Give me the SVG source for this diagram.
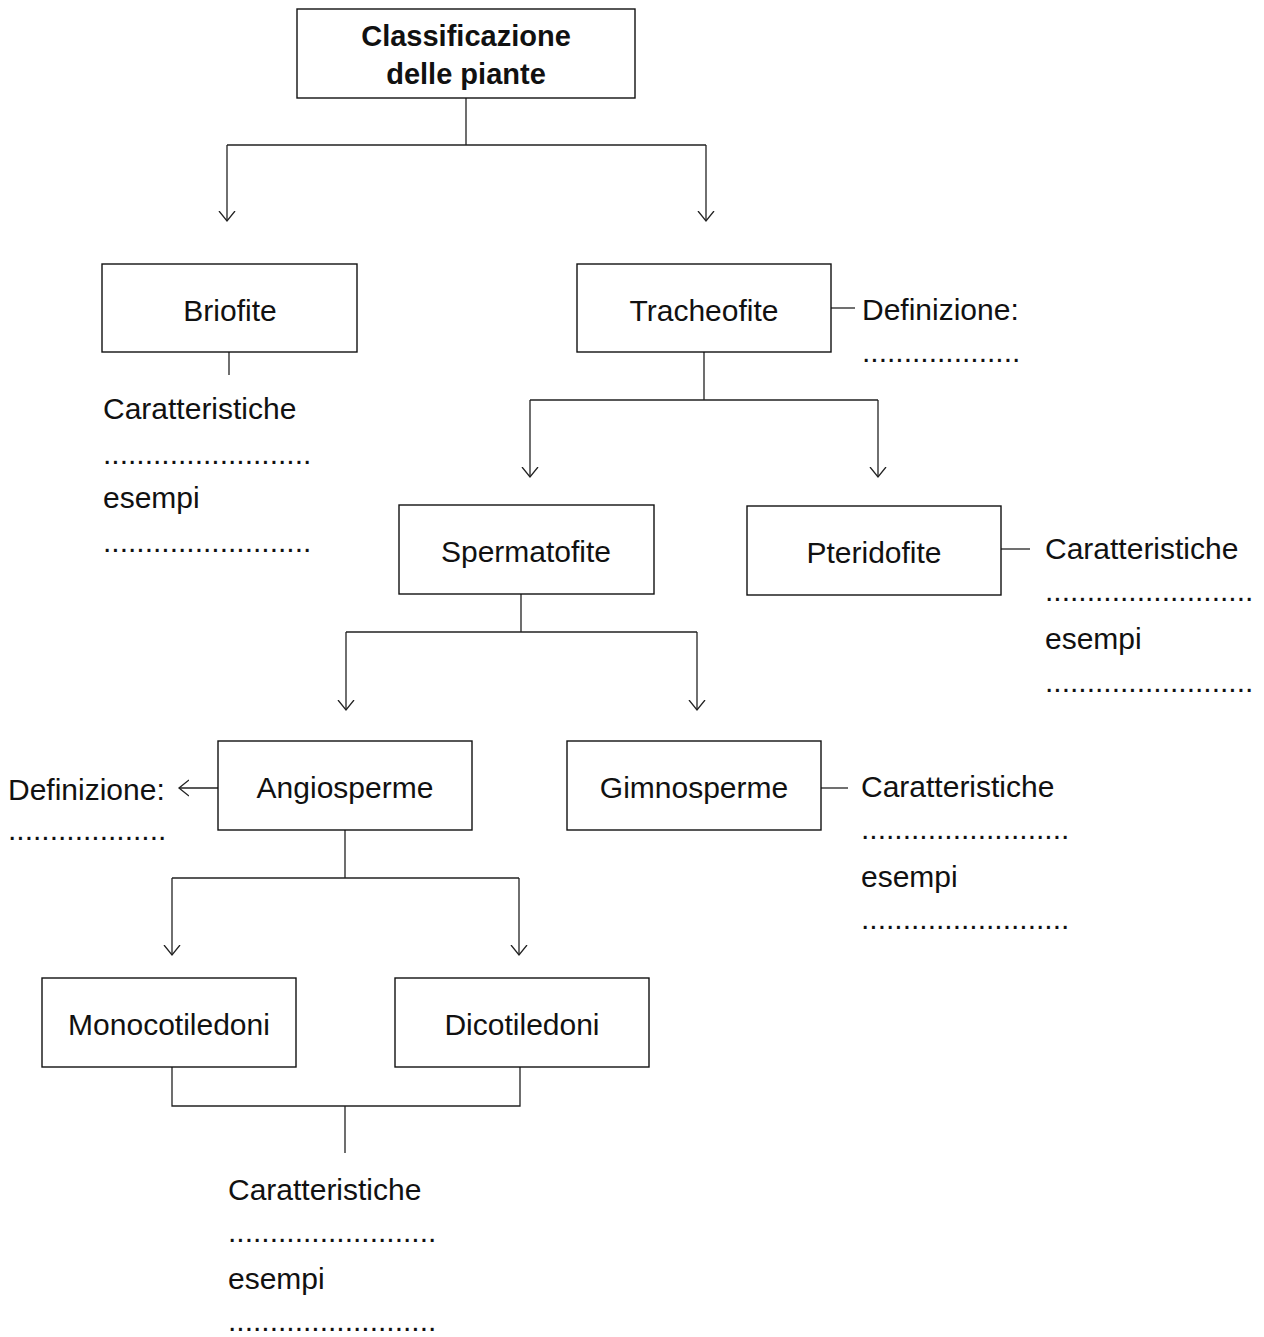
<svg xmlns="http://www.w3.org/2000/svg" width="1264" height="1337" viewBox="0 0 1264 1337">
<style>
.box{fill:#fff;stroke:#111;stroke-width:1.4}
.ln{fill:none;stroke:#222;stroke-width:1.3}
text{font-family:"Liberation Sans",Arial,sans-serif;font-size:30px;fill:#111}
.c{text-anchor:middle}
.b{font-weight:bold;font-size:29px}
</style>
<defs>
<marker id="ah" markerWidth="20" markerHeight="20" refX="10" refY="10" orient="auto" markerUnits="userSpaceOnUse">
<polyline points="0,2 10,10 0,18" fill="none" stroke="#222" stroke-width="1.3"/>
</marker>
</defs>
<rect width="1264" height="1337" fill="#fff"/>
<g id="connectors">
<path class="ln" d="M466,98 V145 M227,145 H706"/>
<path class="ln" d="M227,145 V221" marker-end="url(#ah)"/>
<path class="ln" d="M706,145 V221" marker-end="url(#ah)"/>
<path class="ln" d="M229,352 V375"/>
<path class="ln" d="M831,308 H855"/>
<path class="ln" d="M704,352 V400 M530,400 H878"/>
<path class="ln" d="M530,400 V477" marker-end="url(#ah)"/>
<path class="ln" d="M878,400 V477" marker-end="url(#ah)"/>
<path class="ln" d="M1001,549 H1030"/>
<path class="ln" d="M521,594 V632 M346,632 H697"/>
<path class="ln" d="M346,632 V710" marker-end="url(#ah)"/>
<path class="ln" d="M697,632 V710" marker-end="url(#ah)"/>
<path class="ln" d="M821,788 H848"/>
<path class="ln" d="M218,788 H179" marker-end="url(#ah)"/>
<path class="ln" d="M345,830 V878 M172,878 H519"/>
<path class="ln" d="M172,878 V955" marker-end="url(#ah)"/>
<path class="ln" d="M519,878 V955" marker-end="url(#ah)"/>
<path class="ln" d="M172,1067 V1106 H520 V1067 M345,1106 V1153"/>
</g>
<g id="title">
<rect class="box" x="297" y="9" width="338" height="89"/>
<text class="c b" x="466" y="46">Classificazione</text>
<text class="c b" x="466" y="84">delle piante</text>
</g>
<g id="briofite">
<rect class="box" x="102" y="264" width="255" height="88"/>
<text class="c" x="230" y="321">Briofite</text>
</g>
<g id="briofite-note">
<text x="103" y="419">Caratteristiche</text>
<text x="103" y="464">.........................</text>
<text x="103" y="508">esempi</text>
<text x="103" y="552">.........................</text>
</g>
<g id="tracheofite">
<rect class="box" x="577" y="264" width="254" height="88"/>
<text class="c" x="704" y="321">Tracheofite</text>
</g>
<g id="tracheofite-note">
<text x="862" y="320">Definizione:</text>
<text x="862" y="362">...................</text>
</g>
<g id="spermatofite">
<rect class="box" x="399" y="505" width="255" height="89"/>
<text class="c" x="526" y="562">Spermatofite</text>
</g>
<g id="pteridofite">
<rect class="box" x="747" y="506" width="254" height="89"/>
<text class="c" x="874" y="563">Pteridofite</text>
</g>
<g id="pteridofite-note">
<text x="1045" y="559">Caratteristiche</text>
<text x="1045" y="601">.........................</text>
<text x="1045" y="649">esempi</text>
<text x="1045" y="692">.........................</text>
</g>
<g id="angiosperme">
<rect class="box" x="218" y="741" width="254" height="89"/>
<text class="c" x="345" y="798">Angiosperme</text>
</g>
<g id="angiosperme-note">
<text x="8" y="800">Definizione:</text>
<text x="8" y="840">...................</text>
</g>
<g id="gimnosperme">
<rect class="box" x="567" y="741" width="254" height="89"/>
<text class="c" x="694" y="798">Gimnosperme</text>
</g>
<g id="gimnosperme-note">
<text x="861" y="797">Caratteristiche</text>
<text x="861" y="839">.........................</text>
<text x="861" y="887">esempi</text>
<text x="861" y="929">.........................</text>
</g>
<g id="monocotiledoni">
<rect class="box" x="42" y="978" width="254" height="89"/>
<text class="c" x="169" y="1035">Monocotiledoni</text>
</g>
<g id="dicotiledoni">
<rect class="box" x="395" y="978" width="254" height="89"/>
<text class="c" x="522" y="1035">Dicotiledoni</text>
</g>
<g id="cotiledoni-note">
<text x="228" y="1200">Caratteristiche</text>
<text x="228" y="1242">.........................</text>
<text x="228" y="1289">esempi</text>
<text x="228" y="1331">.........................</text>
</g>
</svg>
